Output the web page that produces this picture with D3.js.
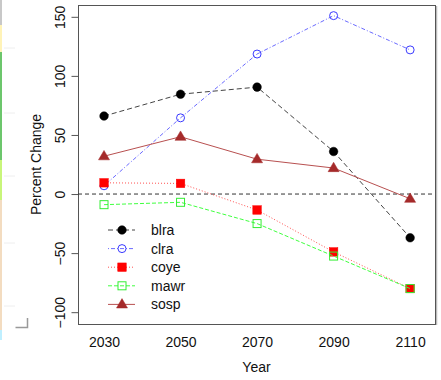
<!DOCTYPE html>
<html>
<head>
<meta charset="utf-8">
<script src="https://cdn.jsdelivr.net/npm/d3@7"></script>
<style>
  html, body { margin: 0; padding: 0; background: #fff; }
  svg { display: block; font-family: "Liberation Sans", Arial, sans-serif; }
</style>
</head>
<body>
<script>
// Projected percent change by species and year
const years = [2030, 2050, 2070, 2090, 2110];
const species = ["blra", "clra", "coye", "mawr", "sosp"];
const blra = [66, 84.5, 90.5, 36, -37];
const clra = [7, 64.5, 118.5, 151, 122];
const coye = [9.5, 9, -13.5, -49, -80];
const mawr = [-9, -7, -25, -52.5, -80];
const sosp = [32, 48.5, 29.5, 22, -4];
const yTicks = [-100, -50, 0, 50, 100, 150];

const seriesValues = { blra, clra, coye, mawr, sosp };
const styles = {
  blra: { color: "#000000", line: "#444", dash: "5,3", shape: "circle", fill: true },
  clra: { color: "#3a3aff", line: "#6a6aff", dash: "1,2,4,2", shape: "circle", fill: false },
  coye: { color: "#ff0000", line: "#ff5050", dash: "1,2", shape: "square", fill: true },
  mawr: { color: "#33ee33", line: "#40ff40", dash: "4,2", shape: "square", fill: false },
  sosp: { color: "#a52a2a", line: "#b85050", dash: null, shape: "triangle", fill: true }
};

const W = 441, H = 380;
const box = { left: 78, right: 435, top: 5, bottom: 324 };

const svg = d3.select("body").append("svg").attr("width", W).attr("height", H);

// faint strips along the left edge
const strips = [
  [0, 25, "#c8c8c8"], [25, 52, "#fff3b8"], [52, 160, "#6cc66c"],
  [160, 200, "#c8f57a"], [200, 330, "#f3dcc0"], [330, 340, "#bfefff"]
];
svg.selectAll("rect.strip").data(strips).enter().append("rect")
  .attr("x", 0).attr("width", 2)
  .attr("y", d => d[0]).attr("height", d => d[1] - d[0])
  .attr("fill", d => d[2]);
[48, 113, 176, 243, 306].forEach(yy => {
  svg.append("line").attr("x1", 4).attr("x2", 15).attr("y1", yy).attr("y2", yy)
    .attr("stroke", "#eee").attr("stroke-width", 1);
});
svg.append("path").attr("d", "M15.5,327.5 H27.5 V318")
  .attr("fill", "none").attr("stroke", "#999").attr("stroke-width", 1.5);

const x = d3.scaleLinear().domain([2023.2, 2116.5]).range([box.left, box.right]);
const y = d3.scaleLinear().domain([-110, 160]).range([box.bottom, box.top]);

// plot frame with a light shadow on the right
svg.append("line").attr("x1", box.right + 1.5).attr("x2", box.right + 1.5)
  .attr("y1", box.top + 1).attr("y2", box.bottom + 1)
  .attr("stroke", "#bbb").attr("stroke-width", 1.5);
svg.append("rect")
  .attr("x", box.left + 0.5).attr("y", box.top + 0.5)
  .attr("width", box.right - box.left).attr("height", box.bottom - box.top)
  .attr("fill", "none").attr("stroke", "#555").attr("stroke-width", 1);

// y axis
const yAxis = svg.append("g")
  .attr("transform", `translate(${box.left + 0.5},0)`)
  .call(d3.axisLeft(y).tickValues(yTicks).tickSize(7).tickSizeOuter(0).tickFormat(d3.format("d")));
yAxis.select(".domain").remove();
yAxis.selectAll(".tick line").attr("stroke", "#555");
yAxis.selectAll(".tick text")
  .attr("x", 0).attr("dy", 0).attr("y", 0)
  .attr("transform", "translate(-14,0) rotate(-90)")
  .attr("text-anchor", "middle")
  .attr("font-size", 14).attr("fill", "#111")
  .style("font-family", "Liberation Sans, Arial, sans-serif");

// x axis labels (no tick marks)
const xAxis = svg.append("g")
  .attr("transform", `translate(0,${box.bottom})`)
  .call(d3.axisBottom(x).tickValues(years).tickSize(0).tickPadding(13).tickFormat(d3.format("d")));
xAxis.select(".domain").remove();
xAxis.selectAll(".tick text")
  .attr("font-size", 14).attr("fill", "#111")
  .style("font-family", "Liberation Sans, Arial, sans-serif");

// axis titles
svg.append("text").attr("x", (box.left + box.right) / 2).attr("y", 372)
  .attr("text-anchor", "middle").attr("font-size", 14).attr("fill", "#111").text("Year");
svg.append("text")
  .attr("transform", `translate(41,${(box.top + box.bottom) / 2}) rotate(-90)`)
  .attr("text-anchor", "middle").attr("font-size", 14).attr("fill", "#111").text("Percent Change");

// zero reference line
svg.append("line")
  .attr("x1", box.left).attr("x2", box.right)
  .attr("y1", y(0)).attr("y2", y(0))
  .attr("stroke", "#333").attr("stroke-width", 1).attr("stroke-dasharray", "4,3");

function drawMarker(g, shape, fill, color, cx, cy) {
  if (shape === "circle") {
    g.append("circle").attr("cx", cx).attr("cy", cy).attr("r", fill ? 4.3 : 4)
      .attr("fill", fill ? color : "none").attr("stroke", color).attr("stroke-width", fill ? 0.5 : 1);
  } else if (shape === "square") {
    const s = fill ? 8.5 : 8;
    g.append("rect").attr("x", cx - s / 2).attr("y", cy - s / 2).attr("width", s).attr("height", s)
      .attr("fill", fill ? color : "none").attr("stroke", color).attr("stroke-width", fill ? 0.5 : 1);
  } else {
    const r = 5.8;
    g.append("path")
      .attr("d", `M${cx},${cy - r} L${cx + r * 0.95},${cy + r * 0.62} L${cx - r * 0.95},${cy + r * 0.62} Z`)
      .attr("fill", color).attr("stroke", color).attr("stroke-width", 0.5);
  }
}

const line = d3.line().x((d, i) => x(years[i])).y(d => y(d));

const plot = svg.append("g");
species.forEach(name => {
  const st = styles[name];
  const vals = seriesValues[name];
  const p = plot.append("path").datum(vals)
    .attr("d", line).attr("fill", "none")
    .attr("stroke", st.line).attr("stroke-width", 1);
  if (st.dash) p.attr("stroke-dasharray", st.dash);
  vals.forEach((v, i) => drawMarker(plot, st.shape, st.fill, st.color, x(years[i]), y(v)));
});

// legend
const legend = svg.append("g").attr("transform", "translate(108,230)");
species.forEach((name, i) => {
  const st = styles[name];
  const g = legend.append("g").attr("transform", `translate(0,${i * 18.6})`);
  const l = g.append("line").attr("x1", 0).attr("x2", 27).attr("y1", 0).attr("y2", 0)
    .attr("stroke", st.line).attr("stroke-width", 1);
  if (st.dash) l.attr("stroke-dasharray", st.dash);
  drawMarker(g, st.shape, st.fill, st.color, 14, 0);
  g.append("text").attr("x", 43).attr("y", 5).attr("font-size", 14).attr("fill", "#111").text(name);
});
</script>
</body>
</html>
